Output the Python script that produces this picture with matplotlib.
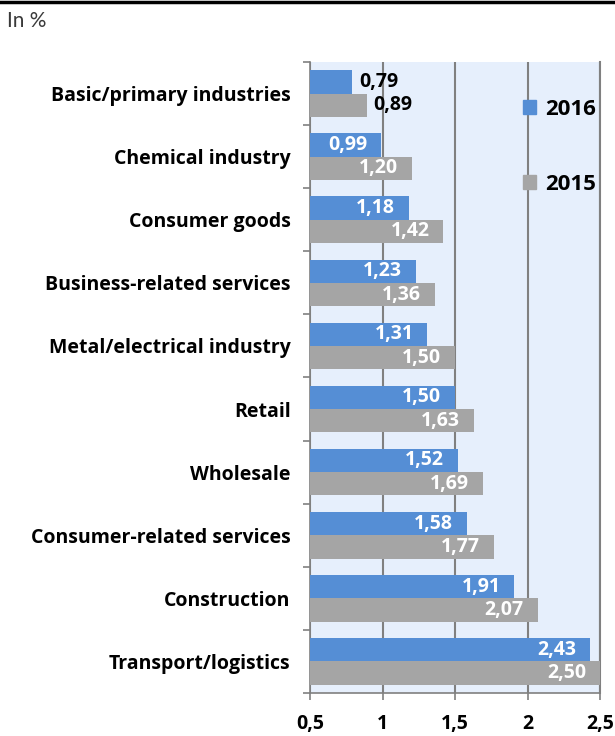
import matplotlib
matplotlib.use("Agg")
import matplotlib.pyplot as plt
import numpy as np
from matplotlib.lines import Line2D
from matplotlib.patches import Patch

plt.rcParams['font.family'] = ['Open Sans', 'DejaVu Sans']

# Daten
categories = ["Basic/primary industries", "Chemical industry", "Consumer goods",
              "Business-related services", "Metal/electrical industry", "Retail",
              "Wholesale", "Consumer-related services", "Construction",
              "Transport/logistics"]
v2016 = [0.79, 0.99, 1.18, 1.23, 1.31, 1.50, 1.52, 1.58, 1.91, 2.43]
v2015 = [0.89, 1.20, 1.42, 1.36, 1.50, 1.63, 1.69, 1.77, 2.07, 2.50]
xticks = [0.5, 1, 1.5, 2, 2.5]
xticklabels = ["0,5", "1", "1,5", "2", "2,5"]

blue = "#558ED5"
grey = "#A5A5A5"
base = 0.5

fig = plt.figure(figsize=(6.15, 7.36), dpi=100)
ax = fig.add_axes([310 / 615, 43 / 736, 290 / 615, 631 / 736])
ax.set_facecolor("#E6EFFC")

y = np.arange(len(categories))
h = 0.37
b16 = ax.barh(y - h / 2, np.array(v2016) - base, left=base, height=h, color=blue, label="2016", zorder=3)
b15 = ax.barh(y + h / 2, np.array(v2015) - base, left=base, height=h, color=grey, label="2015", zorder=3)

# Werte an die Balken
for ys, vals in [(y - h / 2, v2016), (y + h / 2, v2015)]:
    for yi, v in zip(ys, vals):
        txt = f"{v:.2f}".replace(".", ",")
        if v - base < 0.45:
            ax.annotate(txt, (v, yi), xytext=(5, 0), textcoords="offset points",
                        ha="left", va="center", fontsize=14, fontweight="bold",
                        color="black", zorder=4)
        else:
            ax.annotate(txt, (v, yi), xytext=(-10, 0), textcoords="offset points",
                        ha="right", va="center", fontsize=14, fontweight="bold",
                        color="white", zorder=4)

ax.set_xlim(0.5, 2.5)
ax.set_ylim(len(categories) - 0.5, -0.5)
ax.set_xticks(xticks)
ax.set_xticklabels(xticklabels, fontsize=14, fontweight="bold")
ax.set_yticks(y)
ax.set_yticklabels(categories, fontsize=14, fontweight="bold")
ax.set_yticks(np.arange(-0.5, len(categories)), minor=True)
ax.tick_params(axis="y", which="major", length=0, pad=14)
ax.tick_params(axis="y", which="minor", length=5, color="#808080", width=1.2)
ax.tick_params(axis="x", length=5, color="#808080", width=1.2, pad=10)

ax.grid(axis="x", color="#808080", linewidth=1.5, zorder=1)
ax.spines["top"].set_visible(False)
ax.spines["right"].set_color("#808080")
ax.spines["right"].set_linewidth(1.5)
for s in ["left", "bottom"]:
    ax.spines[s].set_color("#808080")
    ax.spines[s].set_linewidth(1.2)

handles = [Patch(color=blue), Patch(color=grey)]
leg = ax.legend(handles, ["2016", "2015"], loc="upper left", bbox_to_anchor=(0.735, 0.942),
                frameon=False, handlelength=0.6, handleheight=0.6, handletextpad=0.4,
                labelspacing=2.45, borderpad=0, borderaxespad=0,
                prop={"size": 16, "weight": "bold"})

fig.text(7 / 615, 1 - 21 / 736, "In %", fontsize=15, family="Lato", color="#3a3a3a", va="center")
fig.add_artist(Line2D([0, 1], [1 - 1.5 / 736, 1 - 1.5 / 736], color="black", linewidth=2.5,
                      transform=fig.transFigure))

fig.savefig("out.png", dpi=100)
